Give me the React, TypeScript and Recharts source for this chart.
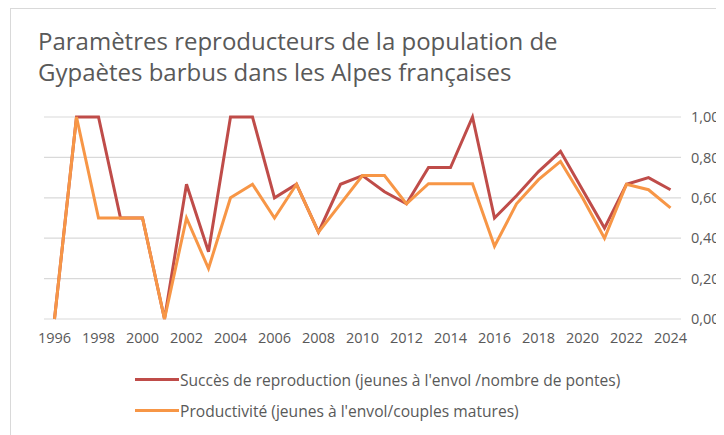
import { LineChart, Line, XAxis, YAxis, CartesianGrid } from "recharts";

// Breeding parameters, bearded vultures, French Alps
const YEARS = [
  "1996", "1997", "1998", "1999", "2000", "2001", "2002", "2003", "2004", "2005",
  "2006", "2007", "2008", "2009", "2010", "2011", "2012", "2013", "2014", "2015",
  "2016", "2017", "2018", "2019", "2020", "2021", "2022", "2023", "2024",
];
const SUCCES = [
  0, 1, 1, 0.5, 0.5, 0, 0.667, 0.333, 1, 1,
  0.6, 0.667, 0.43, 0.667, 0.71, 0.63, 0.57, 0.75, 0.75, 1,
  0.5, 0.61, 0.73, 0.83, 0.64, 0.45, 0.667, 0.7, 0.64,
];
const PRODUCTIVITE = [
  0, 1, 0.5, 0.5, 0.5, 0, 0.5, 0.25, 0.6, 0.667,
  0.5, 0.667, 0.43, 0.57, 0.71, 0.71, 0.57, 0.67, 0.67, 0.67,
  0.36, 0.57, 0.69, 0.78, 0.6, 0.4, 0.667, 0.64, 0.55,
];
const Y_TICKS = [0, 0.2, 0.4, 0.6, 0.8, 1];

const RED = "#BF4C49";
const ORANGE = "#F79646";
const TEXT = "#595959";
const FONT = "'Open Sans', Roboto, sans-serif";

const data = YEARS.map((year, i) => ({
  year,
  succes: SUCCES[i],
  productivite: PRODUCTIVITE[i],
}));

const fmtTick = (v: number) => v.toFixed(2).replace(".", ",");

const LEGEND = [
  { label: "Succès de reproduction (jeunes à l'envol /nombre de pontes)", color: RED },
  { label: "Productivité (jeunes à l'envol/couples matures)", color: ORANGE },
];

export default function App() {
  return (
    <div
      style={{
        position: "relative",
        marginLeft: 2,
        width: 720,
        height: 430,
        overflow: "hidden",
        borderLeft: "1.5px solid #d9d9d9",
        borderTop: "1.5px solid #d9d9d9",
        fontFamily: FONT,
        background: "#fff",
      }}
    >
      <div
        style={{
          position: "absolute",
          left: 27,
          top: 16,
          fontSize: 24,
          lineHeight: "31px",
          color: TEXT,
        }}
      >
        Paramètres reproducteurs de la population de
        <br />
        Gypaètes barbus dans les Alpes françaises
      </div>

      <div style={{ position: "absolute", left: 0, top: 0 }}>
        <LineChart
          width={760}
          height={360}
          data={data}
          margin={{ top: 108, right: 30, bottom: 20, left: 33 }}
        >
          <CartesianGrid horizontal vertical={false} stroke="#d9d9d9" strokeWidth={1.2} />
          <XAxis
            dataKey="year"
            interval={1}
            padding={{ left: 10.5, right: 10.5 }}
            axisLine={false}
            tickLine={false}
            tickMargin={8}
            tick={{ fill: TEXT, fontSize: 14.5, fontFamily: FONT }}
          />
          <YAxis
            orientation="right"
            domain={[0, 1]}
            ticks={Y_TICKS}
            tickFormatter={fmtTick}
            axisLine={false}
            tickLine={false}
            tickMargin={4}
            width={60}
            tick={{ fill: TEXT, fontSize: 14.5, fontFamily: FONT, textAnchor: "start" }}
          />
          <Line
            type="linear"
            dataKey="succes"
            stroke={RED}
            strokeWidth={3}
            dot={false}
            isAnimationActive={false}
          />
          <Line
            type="linear"
            dataKey="productivite"
            stroke={ORANGE}
            strokeWidth={3}
            dot={false}
            isAnimationActive={false}
          />
        </LineChart>
      </div>

      <div style={{ position: "absolute", left: 124, top: 355 }}>
        {LEGEND.map((item) => (
          <div
            key={item.label}
            style={{ display: "flex", alignItems: "center", height: 31, fontSize: 15.6, color: TEXT }}
          >
            <span style={{ display: "inline-block", width: 44, height: 3.5, background: item.color, marginRight: 1 }} />
            {item.label}
          </div>
        ))}
      </div>
    </div>
  );
}
